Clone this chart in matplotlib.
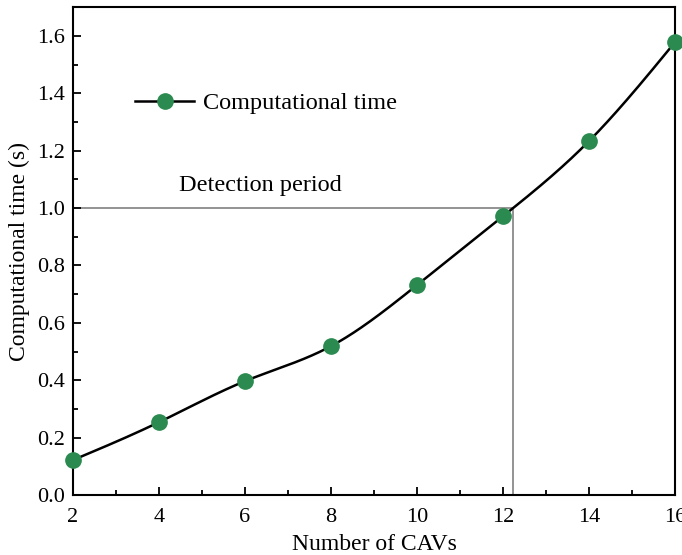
import numpy as np
import matplotlib
matplotlib.use("Agg")
import matplotlib.pyplot as plt
from matplotlib.lines import Line2D

num_cavs = [2, 4, 6, 8, 10, 12, 14, 16]
comp_time = [0.122, 0.254, 0.397, 0.519, 0.732, 0.972, 1.234, 1.579]
detection_period = 1.0
cross_x = 12.23

plt.rcParams['font.family'] = ['Liberation Serif', 'DejaVu Serif']


def natural_spline(x, y, xs):
    x = np.asarray(x, float); y = np.asarray(y, float)
    n = len(x)
    h = np.diff(x)
    A = np.zeros((n, n)); b = np.zeros(n)
    A[0, 0] = 1; A[-1, -1] = 1
    for i in range(1, n - 1):
        A[i, i - 1] = h[i - 1]
        A[i, i] = 2 * (h[i - 1] + h[i])
        A[i, i + 1] = h[i]
        b[i] = 3 * ((y[i + 1] - y[i]) / h[i] - (y[i] - y[i - 1]) / h[i - 1])
    c = np.linalg.solve(A, b)
    out = np.empty_like(xs)
    for k, xv in enumerate(xs):
        i = min(max(np.searchsorted(x, xv) - 1, 0), n - 2)
        dx = xv - x[i]
        bi = (y[i + 1] - y[i]) / h[i] - h[i] * (2 * c[i] + c[i + 1]) / 3
        di = (c[i + 1] - c[i]) / (3 * h[i])
        out[k] = y[i] + bi * dx + c[i] * dx ** 2 + di * dx ** 3
    return out


fig = plt.figure(figsize=(6.82, 5.55), dpi=100)
ax = fig.add_axes([0.107, 0.108, 0.883, 0.879])

xs = np.linspace(num_cavs[0], num_cavs[-1], 400)
ys = natural_spline(num_cavs, comp_time, xs)

ax.plot([num_cavs[0], cross_x], [detection_period, detection_period], color='#808080', lw=1.2, zorder=1)
ax.plot([cross_x, cross_x], [0, detection_period], color='#808080', lw=1.2, zorder=1)
ax.plot(xs, ys, color='black', lw=1.8, zorder=2)
ax.plot(num_cavs, comp_time, 'o', color='#2a8a4f', ms=11, zorder=3, clip_on=False)

ax.text(2.0 + (179 - 73) / 43, 1.077, 'Detection period', fontsize=17.5, va='center', ha='left')

handle = Line2D([], [], color='black', lw=1.8, marker='o', ms=11, markerfacecolor='#2a8a4f', markeredgecolor='#2a8a4f')
ax.legend([handle], ['Computational time'], loc='center left', bbox_to_anchor=(0.103, 0.8035),
          frameon=False, fontsize=17.5, handlelength=2.43, borderpad=0, borderaxespad=0,
          handletextpad=0.37)

ax.set_xlim(2, 16)
ax.set_ylim(0, 1.7)
ax.set_xticks(np.arange(2, 17, 2))
ax.set_xticks(np.arange(3, 16, 2), minor=True)
ax.set_yticks(np.arange(0, 1.61, 0.2))
ax.set_yticks(np.arange(0.1, 1.71, 0.2), minor=True)
ax.yaxis.set_major_formatter(matplotlib.ticker.FormatStrFormatter('%.1f'))
ax.tick_params(which='both', direction='in', labelsize=16, width=1.3)
ax.tick_params(axis='x', which='major', pad=9)
ax.tick_params(axis='y', which='major', pad=6)
ax.tick_params(which='major', length=6)
ax.tick_params(which='minor', length=3.5)
for s in ax.spines.values():
    s.set_linewidth(1.5)

ax.set_xlabel('Number of CAVs', fontsize=17, labelpad=5)
ax.set_ylabel('Computational time (s)', fontsize=17, labelpad=5)

fig.savefig('out.png', dpi=100)
